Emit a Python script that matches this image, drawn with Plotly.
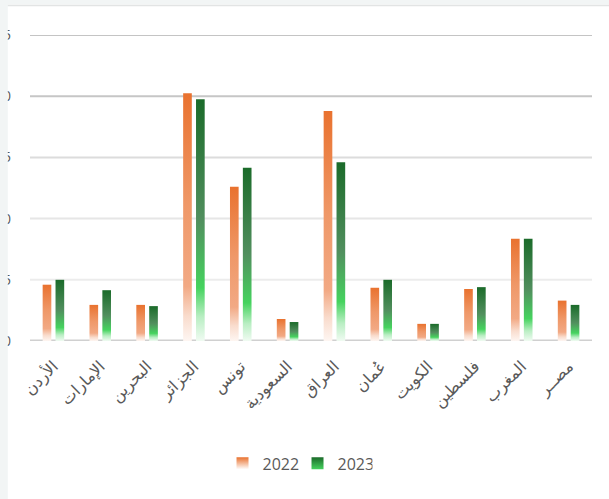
import plotly.graph_objects as go

# Countries (x categories) and yearly values
countries = ["الأردن", "الإمارات", "البحرين", "الجزائر", "تونس", "السعودية",
             "العراق", "عُمان", "الكويت", "فلسطين", "المغرب", "مصــر"]
values_2022 = [4.6, 2.95, 2.95, 20.25, 12.6, 1.8, 18.8, 4.35, 1.4, 4.25, 8.35, 3.3]
values_2023 = [5.0, 4.15, 2.85, 19.75, 14.15, 1.55, 14.6, 5.0, 1.4, 4.4, 8.35, 2.95]
years = ["2022", "2023"]
y_ticks = [0, 5, 10, 15, 20, 25]

# Vertical gradients (bottom -> top)
orange_scale = [[0, "#fef6f2"], [0.1, "#f9dccd"], [0.22, "#f2a984"],
                [0.55, "#ef9868"], [1, "#e9722f"]]
green_scale = [[0, "#f0fbf2"], [0.1, "#b9eec3"], [0.22, "#45d35e"],
               [0.5, "#518f5e"], [1, "#1b6b2a"]]
solid = {"2022": "#e9722f", "2023": "#1b6b2a"}

bar_w = 0.185
half_gap = 0.045

fig = go.Figure()

series = [(years[0], values_2022, orange_scale, -1), (years[1], values_2023, green_scale, 1)]
for name, vals, scale, side in series:
    for i, v in enumerate(vals):
        if side < 0:
            xa, xb = i - half_gap - bar_w, i - half_gap
        else:
            xa, xb = i + half_gap, i + half_gap + bar_w
        fig.add_trace(go.Scatter(
            x=[xa, xa, xb, xb, xa], y=[0, v, v, 0, 0],
            mode="lines", fill="toself", line=dict(width=0, color=solid[name]),
            fillgradient=dict(type="vertical", colorscale=scale),
            name=name, legendgroup=name, showlegend=False,
            hoveron="fills", text=f"{countries[i]} {name}: {v}", hoverinfo="text",
        ))
    # legend swatch
    fig.add_trace(go.Scatter(
        x=[None], y=[None], mode="markers", name=name, legendgroup=name,
        marker=dict(symbol="square", size=12, color=solid[name],
                    gradient=dict(type="vertical", color="#ffffff" if side < 0 else "#45d35e"),
                    line=dict(width=0)),
    ))

# gridlines drawn with slightly varying shades
grid_colors = ["#d0d0d0", "#ececec", "#e6e6e6", "#dcdcdc", "#c6c6c6", "#c4c4c4"]
for t, c in zip(y_ticks, grid_colors):
    fig.add_shape(type="line", xref="paper", yref="y", x0=0, x1=1, y0=t, y1=t,
                  line=dict(color=c, width=3 if t == 0 else 2), layer="below")

# page frame around the panel
fig.add_shape(type="rect", xref="paper", yref="paper", x0=-0.06, x1=-0.0395,
              y0=-0.55, y1=1.2, fillcolor="#f2f5f5", line=dict(width=0), layer="above")
fig.add_shape(type="rect", xref="paper", yref="paper", x0=-0.06, x1=1.05,
              y0=1.1, y1=1.2, fillcolor="#f2f5f5", line=dict(width=0), layer="above")
fig.add_shape(type="line", xref="paper", yref="paper", x0=-0.0395, x1=1.05,
              y0=1.0965, y1=1.0965, line=dict(color="#e2e4e4", width=1.5), layer="above")

fig.update_layout(
    width=609, height=499,
    margin=dict(l=30, r=17, t=35, b=158, autoexpand=False),
    paper_bgcolor="white", plot_bgcolor="white",
    xaxis=dict(range=[-0.5, 11.5], tickmode="array", tickvals=list(range(12)),
               ticktext=countries, tickangle=-45, showgrid=False, zeroline=False,
               showline=False, ticks="", fixedrange=True, automargin=False,
               ticklabelstandoff=12,
               tickfont=dict(family="DejaVu Sans", size=16, color="#595959")),
    yaxis=dict(range=[0, 25], tickvals=y_ticks, showgrid=False, zeroline=False,
               showline=False, ticks="", ticklabelstandoff=18, automargin=False,
               tickfont=dict(family="Open Sans", size=14, color="#595959")),
    legend=dict(orientation="h", x=0.476, xanchor="center", y=-0.4, yanchor="middle",
                entrywidth=30, entrywidthmode="pixels",
                font=dict(family="Open Sans", size=16, color="#595959"),
                itemclick=False, itemdoubleclick=False),
    showlegend=True,
)

fig.write_html("out.html")
